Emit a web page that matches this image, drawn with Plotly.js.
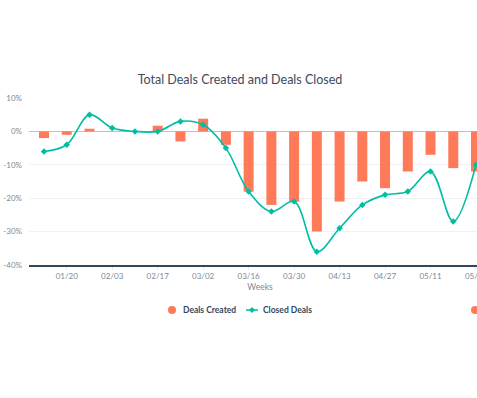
<!DOCTYPE html>
<html>
<head>
<meta charset="utf-8">
<script src="https://cdn.plot.ly/plotly-3.0.1.min.js"></script>
<style>
html,body{margin:0;padding:0;overflow:hidden;background:#fff;width:477px;height:398px;}
#chart{width:500px;height:398px;}
</style>
</head>
<body>
<div id="chart"></div>
<script>
const weeks = ["01/13","01/20","01/27","02/03","02/10","02/17","02/24","03/02","03/09","03/16",
               "03/23","03/30","04/06","04/13","04/20","04/27","05/04","05/11","05/18","05/25"];
const dealsCreated = [-2,-1,0.8,0,0,1.7,-3,3.8,-4,-18,-22,-21,-30,-21,-15,-17,-12,-7,-11,-12];
const closedDeals  = [-6,-4,5,1,0,0,3,2,-5,-18,-24,-21,-36,-29,-22,-19,-18,-12,-27,-10];
const tickWeeks = ["01/20","02/03","02/17","03/02","03/16","03/30","04/13","04/27","05/11","05/25"];
const yTicks = [-40,-30,-20,-10,0,10];
const yTickText = ["-40%","-30%","-20%","-10%","0%","10%"];
const seriesNames = ["Deals Created","Closed Deals"];

const ORANGE = "#ff7a59";
const TEAL = "#00bda5";
const FONT = "Lato, 'Open Sans', sans-serif";

// plot geometry (px) used to place the hand-built legend
const W = 500, H = 398, ML = 29, MR = 9, MT = 98, MB = 133;
const PW = W - ML - MR, PH = H - MT - MB;
const px = x => (x - ML) / PW;
const py = y => (H - MB - y) / PH;
const LEG_Y = 310;

const traces = [
  {type:"bar", x:weeks, y:dealsCreated, name:seriesNames[0], marker:{color:ORANGE},
   showlegend:false},
  {type:"scatter", mode:"lines+markers", x:weeks, y:closedDeals, name:seriesNames[1],
   line:{color:TEAL, width:1.6, shape:"spline", smoothing:1},
   marker:{color:TEAL, size:5, symbol:"diamond"}, showlegend:false}
];

const legFont = {family:FONT, size:8.5, color:"#33475b", weight:"bold"};

const layout = {
  width:W, height:H,
  margin:{l:ML, r:MR, t:MT, b:MB},
  paper_bgcolor:"#fff", plot_bgcolor:"#fff",
  font:{family:FONT, color:"#7c8a99", size:8},
  title:{text:"Total Deals Created and Deals Closed", xref:"container", x:0.48, xanchor:"center",
         yref:"container", y:1-80/398, yanchor:"middle",
         font:{family:FONT, size:12.5, color:"#3d4b5c"}},
  bargap:0.56,
  showlegend:false,
  xaxis:{type:"category", range:[-0.66,19.66], tickvals:tickWeeks, ticktext:tickWeeks,
         showgrid:false, showline:true, linecolor:"#33475b", linewidth:1.5,
         ticks:"outside", ticklen:3, tickcolor:"#e5eaf0",
         tickfont:{family:FONT, size:8, color:"#7c8a99"},
         title:{text:"Weeks", standoff:4, font:{family:FONT, size:8.5, color:"#7c8a99"}}},
  yaxis:{range:[-40,10], tickmode:"array", tickvals:yTicks, ticktext:yTickText,
         showgrid:true, gridcolor:"#eef2f6",
         zeroline:true, zerolinecolor:"#b8c3cf", zerolinewidth:1, showline:false,
         ticklabelstandoff:6,
         tickfont:{family:FONT, size:8, color:"#7c8a99"}},
  annotations:[
    {xref:"paper", yref:"paper", x:px(181), y:py(LEG_Y), xanchor:"left", yanchor:"middle",
     text:seriesNames[0], showarrow:false, font:legFont},
    {xref:"paper", yref:"paper", x:px(261), y:py(LEG_Y), xanchor:"left", yanchor:"middle",
     text:seriesNames[1], showarrow:false, font:legFont}
  ],
  shapes:[
    {type:"circle", xref:"paper", yref:"paper", xsizemode:"pixel", ysizemode:"pixel",
     xanchor:px(172), yanchor:py(LEG_Y), x0:-4, x1:4, y0:-4, y1:4,
     fillcolor:ORANGE, line:{width:0}},
    {type:"line", xref:"paper", yref:"paper", xsizemode:"pixel", ysizemode:"pixel",
     xanchor:px(252), yanchor:py(LEG_Y), x0:-6, x1:6, y0:0, y1:0,
     line:{color:TEAL, width:1.5}},
    {type:"path", xref:"paper", yref:"paper", xsizemode:"pixel", ysizemode:"pixel",
     xanchor:px(252), yanchor:py(LEG_Y), path:"M0,3 L3,0 L0,-3 L-3,0 Z",
     fillcolor:TEAL, line:{width:0}},
    {type:"circle", xref:"paper", yref:"paper", xsizemode:"pixel", ysizemode:"pixel",
     xanchor:px(475), yanchor:py(LEG_Y), x0:-4, x1:4, y0:-4, y1:4,
     fillcolor:ORANGE, line:{width:0}}
  ]
};

Plotly.newPlot("chart", traces, layout, {displayModeBar:false, staticPlot:true});
</script>
</body>
</html>
